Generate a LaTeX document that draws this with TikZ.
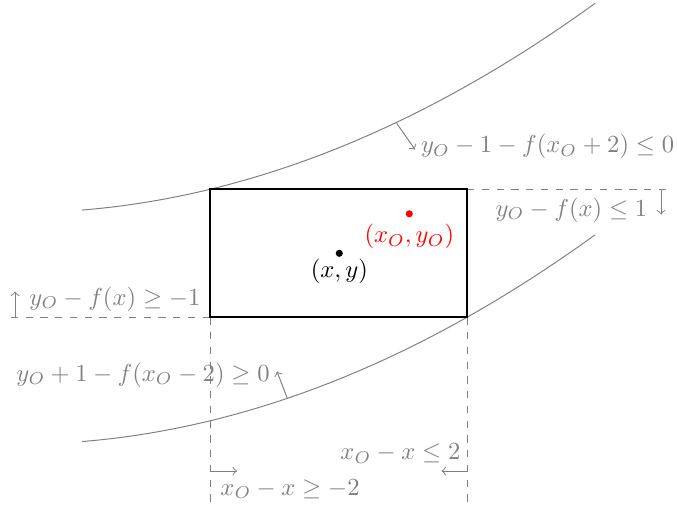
\documentclass[tikz,border=0pt]{standalone}
\usepackage{amsmath}
\begin{document}
\begin{tikzpicture}[x=0.4067pt,y=-0.4067pt,
  gcurve/.style={draw=gray, line width=0.4pt},
  guide/.style={draw=gray, dashed, line width=0.4pt},
  lbl/.style={text=gray, inner sep=0pt, anchor=base west},
  note/.style={draw=gray, line width=0.4pt, ->},
  ptlbl/.style={inner sep=0pt, anchor=center}]
\useasboundingbox (0,0) rectangle (677,504);
% curves
\draw[gcurve] (82,210.06) .. controls (253,196) and (424,127.1) .. (595,3.36);
\draw[gcurve] (82,441.56) .. controls (253,427.5) and (424,358.6) .. (595,234.86);
% box corners
\coordinate (BL) at (210,317.3);
\coordinate (TR) at (467,189.3);
\coordinate (TL) at (210,189.3);
\coordinate (BR) at (467,317.3);
% guide lines
\coordinate (gR) at (671,189.3);
\coordinate (gL) at (11,317.3);
\coordinate (gBL) at (210,504);
\coordinate (gBR) at (467,504);
\draw[guide] (TR) -- (gR);
\draw[guide] (BL) -- (gL);
\draw[guide] (BL) -- (gBL);
\draw[guide] (BR) -- (gBR);
% box
\draw[thick] (BL) rectangle (TR);
% points
\fill[red] (409.3,213.8) circle (1.45pt) coordinate (pO);
\fill[black] (339.3,253.3) circle (1.45pt) coordinate (p);
\node[ptlbl, text=red] (lpO) at (409.3,236.5) {$(x_O,y_O)$};
\node[ptlbl] (lp) at (339.3,271.5) {$(x,y)$};
% labels
\node[lbl] (lup) at (420.5,152.7) {$y_O-1-f(x_O+2)\leq 0$};
\node[lbl] (lrt) at (495,216) {$y_O-f(x)\leq 1$};
\node[lbl] (llt) at (29,305) {$y_O-f(x)\geq -1$};
\node[lbl] (llow) at (16,381) {$y_O+1-f(x_O-2)\geq 0$};
\node[lbl] (lbr) at (340,459.3) {$x_O-x\leq 2$};
\node[lbl] (lbl) at (220,495) {$x_O-x\geq -2$};
% small arrows
\coordinate (cup) at (396.7,123.3);
\coordinate (tup) at (415,149.5);
\draw[note] (cup) -- (tup);
\coordinate (clow) at (287.3,398.3);
\coordinate (tlow) at (277,371.5);
\draw[note] (clow) -- (tlow);
\coordinate (dR0) at (661,189.3);
\coordinate (dR1) at (661,214.5);
\draw[note] (dR0) -- (dR1);
\coordinate (uL0) at (15,317.3);
\coordinate (uL1) at (15,291.5);
\draw[note] (uL0) -- (uL1);
\coordinate (rB0) at (210,471);
\coordinate (rB1) at (237,471);
\draw[note] (rB0) -- (rB1);
\coordinate (lB0) at (467,471);
\coordinate (lB1) at (441.5,471);
\draw[note] (lB0) -- (lB1);
\end{tikzpicture}
\end{document}
